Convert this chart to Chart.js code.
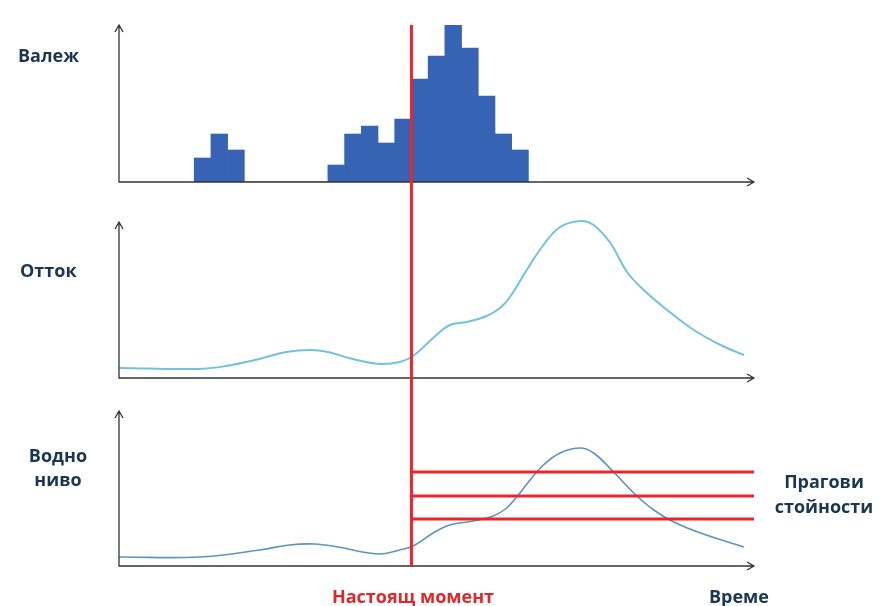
<!DOCTYPE html>
<html>
<head>
<meta charset="utf-8">
<script src="https://cdn.jsdelivr.net/npm/chart.js@4.4.1/dist/chart.umd.min.js"></script>
<style>
  body { margin: 0; width: 879px; height: 606px; background: #fff; position: relative; overflow: hidden; font-family: "Open Sans", sans-serif; }
  canvas { position: absolute; left: 0; }
  .lbl { position: absolute; font-weight: 700; font-size: 18px; line-height: 24px; color: #1b3651; white-space: nowrap; }
  .center { text-align: center; width: 140px; }
</style>
</head>
<body>
<canvas id="rainChart" width="879" height="200" style="top:0"></canvas>
<canvas id="runoffChart" width="879" height="195" style="top:200px"></canvas>
<canvas id="levelChart" width="879" height="211" style="top:395px"></canvas>

<div class="lbl" style="left:18px; top:43px">Валеж</div>
<div class="lbl" style="left:20px; top:258px">Отток</div>
<div class="lbl center" style="left:-12px; top:443px">Водно<br>ниво</div>
<div class="lbl center" style="left:754px; top:469px; line-height:25px">Прагови<br>стойности</div>
<div class="lbl center" style="left:313px; width:200px; top:584px; color:#e3262b">Настоящ момент</div>
<div class="lbl" style="left:709px; top:584px">Време</div>

<script>
// time axis in hours, "now" is where the red line goes
const timeMax = 38;
const now = 17.5;

// rainfall per hour
const rainHours = [5, 6, 7, 8, 9, 10, 11, 12, 13, 14, 15, 16, 17, 18, 19, 20, 21, 22, 23, 24];
const rain = [2.4, 4.8, 3.2, 0, 0, 0, 0, 0, 1.7, 4.8, 5.6, 3.9, 6.3, 10.3, 12.6, 15.7, 13.4, 8.6, 4.8, 3.2];

// runoff
const runoffTime = [0, 4.7, 6.4, 8.4, 10.0, 11.5, 12.5, 14.0, 15.6, 16.8, 17.6, 18.8, 19.8, 20.8, 22.0, 22.8, 23.4, 24.4, 25.4, 26.4, 27.6, 28.4, 29.4, 30.4, 31.4, 32.8, 34.4, 36.0, 37.4];
const runoff = [1.0, 0.9, 1.2, 1.9, 2.6, 2.8, 2.6, 1.9, 1.4, 1.6, 2.2, 4.0, 5.3, 5.6, 6.2, 7.0, 8.1, 10.8, 13.3, 15.1, 15.7, 15.3, 13.5, 10.6, 8.8, 6.8, 4.8, 3.3, 2.3];

// water level
const levelTime = [0, 4.8, 8.4, 10.2, 11.7, 13.1, 15.5, 16.8, 17.6, 18.8, 19.8, 21.2, 22.4, 23.2, 23.8, 24.6, 25.4, 26.4, 27.6, 28.4, 29.6, 30.8, 32.0, 33.2, 34.8, 37.4];
const level = [0.9, 0.9, 1.6, 2.1, 2.2, 1.9, 1.2, 1.6, 2.0, 3.3, 4.1, 4.5, 5.0, 5.8, 6.9, 8.6, 10.1, 11.3, 11.8, 11.3, 9.4, 7.3, 5.6, 4.4, 3.3, 1.9];

// threshold values for the water level
const thresholds = [9.4, 7.0, 4.7];

const red = "#e8262b";

function toPoints(xs, ys) {
  return xs.map((x, i) => ({ x: x, y: ys[i] }));
}

// draws the arrow axes and the red "now" line
const axesPlugin = {
  id: "axesArrows",
  afterDatasetsDraw(chart, args, opts) {
    const { ctx, chartArea: a } = chart;
    ctx.save();
    ctx.strokeStyle = "#333";
    ctx.lineWidth = 1.3;
    ctx.beginPath();
    ctx.moveTo(a.left, a.top);
    ctx.lineTo(a.left, a.bottom);
    ctx.lineTo(a.right, a.bottom);
    ctx.moveTo(a.left - 4, a.top + 7);
    ctx.lineTo(a.left, a.top);
    ctx.lineTo(a.left + 4, a.top + 7);
    ctx.moveTo(a.right - 7, a.bottom - 4);
    ctx.lineTo(a.right, a.bottom);
    ctx.lineTo(a.right - 7, a.bottom + 4);
    ctx.stroke();

    const x = chart.scales.x.getPixelForValue(now);
    ctx.strokeStyle = red;
    ctx.lineWidth = 3;
    ctx.beginPath();
    ctx.moveTo(x, opts.fromTop ? a.top : 0);
    ctx.lineTo(x, opts.toAxis ? a.bottom : chart.height);
    ctx.stroke();
    ctx.restore();
  },
};

function baseOptions(padding, yMax, nowOpts) {
  return {
    responsive: false,
    animation: false,
    layout: { padding: padding },
    plugins: { legend: { display: false }, tooltip: { enabled: false }, axesArrows: nowOpts },
    scales: {
      x: { type: "linear", min: 0, max: timeMax, offset: false, display: false },
      y: { min: 0, max: yMax, display: false },
    },
  };
}

new Chart(document.getElementById("rainChart"), {
  type: "bar",
  data: {
    datasets: [
      {
        data: toPoints(rainHours, rain),
        backgroundColor: "#3663b4",
        borderWidth: 0,
        barPercentage: 1,
        categoryPercentage: 1,
      },
    ],
  },
  options: baseOptions({ left: 119, right: 125, top: 25, bottom: 18 }, 15.7, { fromTop: true, toAxis: false }),
  plugins: [axesPlugin],
});

new Chart(document.getElementById("runoffChart"), {
  type: "line",
  data: {
    datasets: [
      {
        data: toPoints(runoffTime, runoff),
        borderColor: "#72c3da",
        borderWidth: 2,
        pointRadius: 0,
        tension: 0.4,
        clip: false,
      },
    ],
  },
  options: baseOptions({ left: 119, right: 125, top: 22, bottom: 17 }, 15.6, { fromTop: false, toAxis: false }),
  plugins: [axesPlugin],
});

const thresholdSets = thresholds.map((v) => ({
  data: [{ x: now, y: v }, { x: timeMax, y: v }],
  borderColor: red,
  borderWidth: 3,
  pointRadius: 0,
}));

new Chart(document.getElementById("levelChart"), {
  type: "line",
  data: {
    datasets: thresholdSets.concat([
      {
        data: toPoints(levelTime, level),
        borderColor: "#5e93c0",
        borderWidth: 1.6,
        pointRadius: 0,
        tension: 0.4,
        clip: false,
      },
    ]),
  },
  options: baseOptions({ left: 119, right: 125, top: 16, bottom: 40 }, 15.5, { fromTop: false, toAxis: true }),
  plugins: [axesPlugin],
});
</script>
</body>
</html>
